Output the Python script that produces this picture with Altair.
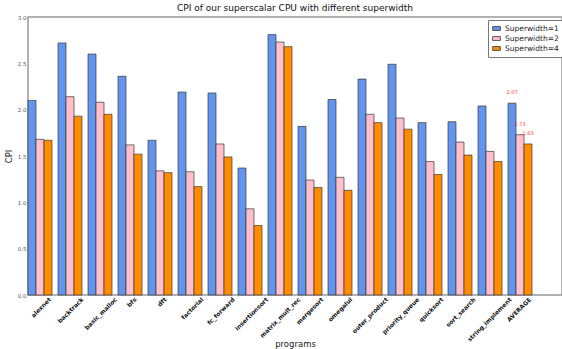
import altair as alt
import pandas as pd

programs = [
    "alexnet", "backtrack", "basic_malloc", "bfs", "dft", "factorial",
    "fc_forward", "insertionsort", "matrix_mult_rec", "mergesort", "omegalul",
    "outer_product", "priority_queue", "quicksort", "sort_search",
    "string_implement", "AVERAGE",
]
cpi_w1 = [2.10, 2.72, 2.60, 2.36, 1.67, 2.19, 2.18, 1.37, 2.81, 1.82, 2.11,
          2.33, 2.49, 1.86, 1.87, 2.04, 2.07]
cpi_w2 = [1.68, 2.14, 2.08, 1.62, 1.34, 1.33, 1.63, 0.93, 2.73, 1.24, 1.27,
          1.95, 1.91, 1.44, 1.65, 1.55, 1.73]
cpi_w4 = [1.67, 1.93, 1.95, 1.52, 1.32, 1.17, 1.49, 0.75, 2.68, 1.16, 1.13,
          1.86, 1.79, 1.30, 1.51, 1.44, 1.63]
series = ["Superwidth=1", "Superwidth=2", "Superwidth=4"]
colors = ["#6495ED", "#FFC0CB", "#FF8C00"]

rows = []
for name, vals in zip(series, [cpi_w1, cpi_w2, cpi_w4]):
    for p, v in zip(programs, vals):
        rows.append({"program": p, "series": name, "cpi": v})
df = pd.DataFrame(rows)
avg_df = df[df["program"] == "AVERAGE"].copy()
avg_df["txt"] = avg_df["cpi"].map(lambda v: f"{v:.2f}")

# rotated tick labels: shift each so its rotated box sits centred on the tick
label_shift = [{"test": f"datum.label == '{p}'", "value": round(1.15 * len(p), 1)}
               for p in programs]

x_enc = alt.X(
    "program:N", sort=programs, title="programs",
    scale=alt.Scale(paddingInner=0.2, paddingOuter=0.5, align=0),
    axis=alt.Axis(
        labelAngle=-45, labelAlign="right", labelBaseline="top",
        labelFont="DejaVu Sans", labelFontWeight="bold", labelFontSize=6,
        labelColor="#111", labelPadding=1, bandPosition=1 / 3,
        labelOffset={"condition": label_shift, "value": 0},
        ticks=False, domain=False,
        titleFont="DejaVu Sans", titleFontWeight="normal", titleFontSize=8.5,
        titleColor="#222", titleY=51, titleBaseline="alphabetic",
    ),
)
xo_enc = alt.XOffset("series:N", sort=series,
                     scale=alt.Scale(paddingInner=0, paddingOuter=0))
y_enc = alt.Y(
    "cpi:Q", title="CPI",
    scale=alt.Scale(domain=[0, 3], nice=False),
    axis=alt.Axis(
        values=[0, 0.5, 1.0, 1.5, 2.0, 2.5, 3.0], format=".1f",
        labelFont="DejaVu Sans", labelFontSize=5.5, labelColor="#555",
        ticks=False, labelPadding=2, grid=False, domain=False,
        titleFont="DejaVu Sans", titleFontWeight="normal", titleFontSize=8.5,
        titleColor="#222", titlePadding=4,
    ),
)

bars = alt.Chart(df).mark_bar(
    stroke="#333", strokeWidth=0.8, strokeOpacity=0.85
).encode(
    x=x_enc,
    xOffset=xo_enc,
    y=y_enc,
    color=alt.Color(
        "series:N", sort=series, title=None,
        scale=alt.Scale(domain=series, range=colors),
        legend=alt.Legend(
            orient="none", legendX=460, legendY=3,
            symbolType="M-1,-0.5L1,-0.5L1,0.5L-1,0.5Z", symbolSize=60,
            symbolStrokeColor="#333", symbolStrokeWidth=0.8,
            labelFont="DejaVu Sans", labelFontSize=7.5, labelColor="#222",
            rowPadding=1, padding=4, strokeColor="#777", fillColor="white",
            cornerRadius=0,
        ),
    ),
)

labels = alt.Chart(avg_df).mark_text(
    color="#ff3b3b", font="DejaVu Sans", fontSize=5, dy=-8, baseline="bottom"
).encode(
    x=alt.X("program:N", sort=programs),
    xOffset=alt.XOffset("series:N", sort=series),
    y="cpi:Q",
    text="txt:N",
)

chart = alt.layer(bars, labels).properties(
    width=534, height=278,
    title=alt.TitleParams(
        "CPI of our superscalar CPU with different superwidth",
        font="DejaVu Sans", fontSize=9, fontWeight="normal", color="#111",
        anchor="middle", offset=2,
    ),
    autosize=alt.AutoSizeParams(type="none"),
    padding={"left": 28, "top": 17, "right": 0, "bottom": 54},
).configure_view(
    stroke="#999", strokeWidth=1.5
)

chart.save("out.html", embed_options={"renderer": "svg", "actions": False})
